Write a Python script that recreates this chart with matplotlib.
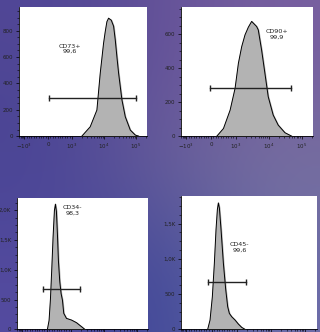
import numpy as np
import matplotlib
matplotlib.use("Agg")
import matplotlib.pyplot as plt

# ---------------- data ----------------
cd73_x = [2042, 3720, 6012, 7640, 9710, 10940, 12350, 13910, 15700, 16860, 19950,
          22500, 25360, 28600, 36360, 46190, 66240, 94900, 120600]
cd73_y = [0, 71, 198, 477, 705, 793, 869, 895, 885, 880, 834,
          730, 600, 477, 274, 147, 46, 8, 0]
cd73_gate = [44, 99600]
cd73_gate_y = 289
cd73_label = ("CD73+\n99,6", 927, 662)

cd90_x = [240, 509, 779, 980, 1219, 1535, 1932, 2435, 3069, 3442, 4340,
          4866, 6133, 7722, 9730, 13760, 19460, 31240, 49500]
cd90_y = [0, 45, 153, 281, 429, 527, 596, 641, 675, 665, 645,
          625, 507, 370, 232, 124, 65, 20, 0]
cd90_gate = [-30, 46240]
cd90_gate_y = 285
cd90_label = ("CD90+\n99,9", 18150, 600)

cd34_x = [26, 94, 149, 203, 258, 312, 353, 394, 435, 476, 531, 585, 640,
          694, 804, 1015, 1440, 2046, 2582]
cd34_y = [0, 150, 500, 1000, 1553, 1994, 2100, 1980, 1600, 1150, 800, 600, 490,
          268, 184, 156, 112, 45, 0]
cd34_gate = [-152, 1907]
cd34_gate_y = 670
cd34_label = ("CD34-\n98,3", 1088, 2000)

cd45_x = [-152, -59, 32, 111, 177, 230, 269, 309, 375, 466, 559, 637, 703,
          795, 927, 1105, 1383, 1733]
cd45_y = [0, 132, 462, 934, 1415, 1698, 1792, 1722, 1415, 943, 566, 321, 226,
          179, 132, 75, 28, 0]
cd45_gate = [-125, 1813]
cd45_gate_y = 675
cd45_label = ("CD45-\n99,6", 1183, 1165)

x_ticks = [-1000, 0, 1000, 10000, 100000]
x_ticklabels = [r"$-10^3$", "0", r"$10^3$", r"$10^4$", r"$10^5$"]
y_ticks_top1 = [0, 200, 400, 600, 800]
y_ticks_top2 = [0, 200, 400, 600]
y_ticks_bot1 = [0, 500, 1000, 1500, 2000]
y_ticks_bot2 = [0, 500, 1000, 1500]
y_ticklabels_bot1 = ["0", "500", "1,0K", "1,5K", "2,0K"]
y_ticklabels_bot2 = ["0", "500", "1,0K", "1,5K"]

# ---------------- figure ----------------
fig = plt.figure(figsize=(3.2, 3.32), dpi=100)

# background gradient
bg = fig.add_axes([0, 0, 1, 1], zorder=-10)
grid = np.array([
    [[80, 70, 150], [100, 82, 152], [120, 95, 160]],
    [[72, 68, 148], [105, 95, 155], [118, 112, 158]],
    [[85, 75, 160], [58, 70, 150], [110, 110, 170]],
]) / 255.0
bg.imshow(grid, extent=[0, 1, 0, 1], aspect="auto", interpolation="bicubic")
bg.set_axis_off()

minor_x = ([-1400, -1300, -1200, -1100] + list(range(-900, 1000, 100))
           + [k * 10 ** e for e in (3, 4, 5) for k in range(2, 10)])
minor_x = [v for v in minor_x if v < 210000]

TICKC = "#222222"


def setup(ax, ylim, yt, ytl, xlabels=True):
    ax.set_facecolor("white")
    ax.set_xscale("symlog", linthresh=1000, linscale=0.67)
    ax.set_xlim(-1450, 2.2e5)
    ax.set_ylim(0, ylim)
    for s in ("top", "right"):
        ax.spines[s].set_visible(False)
    for s in ("left", "bottom"):
        ax.spines[s].set_linewidth(0.6)
        ax.spines[s].set_color("black")
    ax.set_xticks(x_ticks)
    if xlabels:
        ax.set_xticklabels(x_ticklabels)
    else:
        ax.tick_params(axis="x", labelbottom=False)
    ax.set_xticks(minor_x, minor=True)
    ax.set_yticks(yt)
    ax.set_yticklabels(ytl)
    step = yt[1] - yt[0]
    ax.set_yticks(np.arange(0, ylim, step / 4), minor=True)
    ax.tick_params(axis="both", which="major", labelsize=4, length=2.5, width=0.5,
                   colors="black", labelcolor=TICKC, pad=1.5)
    ax.tick_params(axis="both", which="minor", length=1.2, width=0.4, colors="black")


def draw(ax, xs, ys, gate, gate_y, label):
    ax.fill_between(xs, ys, 0, color="#b3b3b3", zorder=2)
    ax.plot(xs, ys, color="black", lw=0.7, zorder=3)
    ax.plot(gate, [gate_y, gate_y], color="#222222", lw=1.0, zorder=4)
    ax.plot(gate, [gate_y, gate_y], ls="none", marker="|", markersize=4, mew=1.0,
            color="#222222", zorder=4)
    ax.text(label[1], label[2], label[0], ha="center", va="center",
            fontsize=4.6, color="#222222", linespacing=1.1, zorder=5)


ax1 = fig.add_axes([0.0594, 0.590, 0.400, 0.389])
setup(ax1, 980, y_ticks_top1, [str(v) for v in y_ticks_top1])
draw(ax1, cd73_x, cd73_y, cd73_gate, cd73_gate_y, cd73_label)

ax2 = fig.add_axes([0.5656, 0.590, 0.4125, 0.389])
setup(ax2, 760, y_ticks_top2, [str(v) for v in y_ticks_top2])
draw(ax2, cd90_x, cd90_y, cd90_gate, cd90_gate_y, cd90_label)

ax3 = fig.add_axes([0.053, 0.008, 0.4105, 0.395])
setup(ax3, 2200, y_ticks_bot1, y_ticklabels_bot1, xlabels=False)
draw(ax3, cd34_x, cd34_y, cd34_gate, cd34_gate_y, cd34_label)

ax4 = fig.add_axes([0.5646, 0.008, 0.425, 0.4016])
setup(ax4, 1890, y_ticks_bot2, y_ticklabels_bot2, xlabels=False)
draw(ax4, cd45_x, cd45_y, cd45_gate, cd45_gate_y, cd45_label)

fig.savefig("out.png", dpi=100)
